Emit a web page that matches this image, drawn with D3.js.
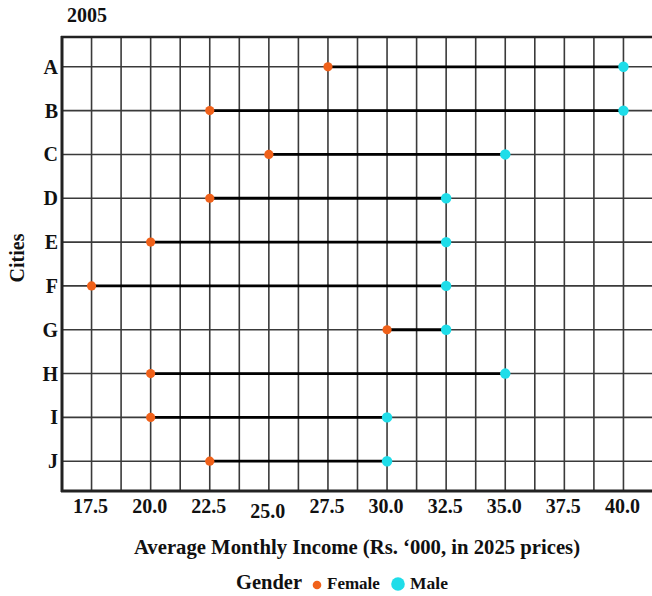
<!DOCTYPE html>
<html>
<head>
<meta charset="utf-8">
<script src="https://cdn.jsdelivr.net/npm/d3@7"></script>
<style>
  body { margin: 0; background: #fff; }
  text { font-family: "Liberation Serif", "Times New Roman", serif; font-weight: bold; fill: #111; }
</style>
</head>
<body>
<svg width="652" height="596"></svg>
<script>
// data (Rs. '000)
var cities = ["A", "B", "C", "D", "E", "F", "G", "H", "I", "J"];
var female = [27.5, 22.5, 25.0, 22.5, 20.0, 17.5, 30.0, 20.0, 20.0, 22.5];
var male   = [40.0, 40.0, 35.0, 32.5, 32.5, 32.5, 32.5, 35.0, 30.0, 30.0];
var xTicks = [17.5, 20.0, 22.5, 25.0, 27.5, 30.0, 32.5, 35.0, 37.5, 40.0];

var col_female = "#f0611a";
var col_male = "#1fdde9";
var grid_col = "#3a3a3a";

var svg = d3.select("svg");

var x = d3.scaleLinear().domain([16.25, 41.25]).range([62, 653]);
var y = d3.scalePoint().domain(cities).range([37, 491]).padding(0.68);

var rows = cities.map(function(c, i) {
  return {city: c, f: female[i], m: male[i]};
});

// ----------- grid ----------------
var grid = svg.append("g").classed("grid", true);

grid.selectAll("line.v")
  .data(d3.range(16.25, 41.3, 1.25))
  .enter().append("line")
    .attr("x1", function(d){ return x(d) })
    .attr("x2", function(d){ return x(d) })
    .attr("y1", 37)
    .attr("y2", 491)
    .attr("stroke", grid_col)
    .attr("stroke-width", 1.6);

grid.selectAll("line.h")
  .data(cities)
  .enter().append("line")
    .attr("x1", 62)
    .attr("x2", 653)
    .attr("y1", function(d){ return y(d) })
    .attr("y2", function(d){ return y(d) })
    .attr("stroke", grid_col)
    .attr("stroke-width", 1.6);

// frame
svg.append("line").attr("x1", 61).attr("x2", 653).attr("y1", 37).attr("y2", 37)
  .attr("stroke", "#222").attr("stroke-width", 2.4);
svg.append("line").attr("x1", 62).attr("x2", 62).attr("y1", 36).attr("y2", 492)
  .attr("stroke", "#222").attr("stroke-width", 3);
svg.append("line").attr("x1", 61).attr("x2", 653).attr("y1", 491).attr("y2", 491)
  .attr("stroke", "#222").attr("stroke-width", 3);

// ----------- dumbbells ----------------
var bells = svg.append("g").classed("bells", true);

bells.selectAll("line")
  .data(rows)
  .enter().append("line")
    .attr("x1", function(d){ return x(d.f) })
    .attr("x2", function(d){ return x(d.m) })
    .attr("y1", function(d){ return y(d.city) })
    .attr("y2", function(d){ return y(d.city) })
    .attr("stroke", "#000")
    .attr("stroke-width", 2.8);

bells.selectAll("circle.f")
  .data(rows)
  .enter().append("circle")
    .attr("cx", function(d){ return x(d.f) })
    .attr("cy", function(d){ return y(d.city) })
    .attr("r", 4.6)
    .attr("fill", col_female);

bells.selectAll("circle.m")
  .data(rows)
  .enter().append("circle")
    .attr("cx", function(d){ return x(d.m) })
    .attr("cy", function(d){ return y(d.city) })
    .attr("r", 5.2)
    .attr("fill", col_male);

// ----------- axes text ----------------
svg.append("g").selectAll("text")
  .data(cities)
  .enter().append("text")
    .attr("x", 58)
    .attr("y", function(d){ return y(d) })
    .attr("dy", "0.35em")
    .attr("text-anchor", "end")
    .style("font-size", "20px")
    .text(function(d){ return d });

svg.append("g").selectAll("text")
  .data(xTicks)
  .enter().append("text")
    .attr("x", function(d){ return x(d) - 1 })
    .attr("y", function(d){ return d === 25 ? 518 : 513 })
    .attr("text-anchor", "middle")
    .style("font-size", "20px")
    .text(function(d){ return d.toFixed(1) });

svg.append("text")
  .attr("x", 67).attr("y", 22)
  .style("font-size", "20px")
  .text("2005");

svg.append("text")
  .attr("transform", "translate(24,258) rotate(-90)")
  .attr("text-anchor", "middle")
  .style("font-size", "20px")
  .text("Cities");

svg.append("text")
  .attr("x", 357).attr("y", 554)
  .attr("text-anchor", "middle")
  .style("font-size", "20.7px")
  .text("Average Monthly Income (Rs. \u2018000, in 2025 prices)");

// ----------- legend ----------------
var leg = svg.append("g").classed("legend", true);
leg.append("text").attr("x", 236).attr("y", 589).style("font-size", "20.5px").text("Gender");
leg.append("circle").attr("cx", 317).attr("cy", 585).attr("r", 4.3).attr("fill", col_female);
leg.append("text").attr("x", 327).attr("y", 589).style("font-size", "17px").text("Female");
leg.append("circle").attr("cx", 398).attr("cy", 584).attr("r", 6.8).attr("fill", col_male);
leg.append("text").attr("x", 410).attr("y", 589).style("font-size", "17.5px").text("Male");
</script>
</body>
</html>
